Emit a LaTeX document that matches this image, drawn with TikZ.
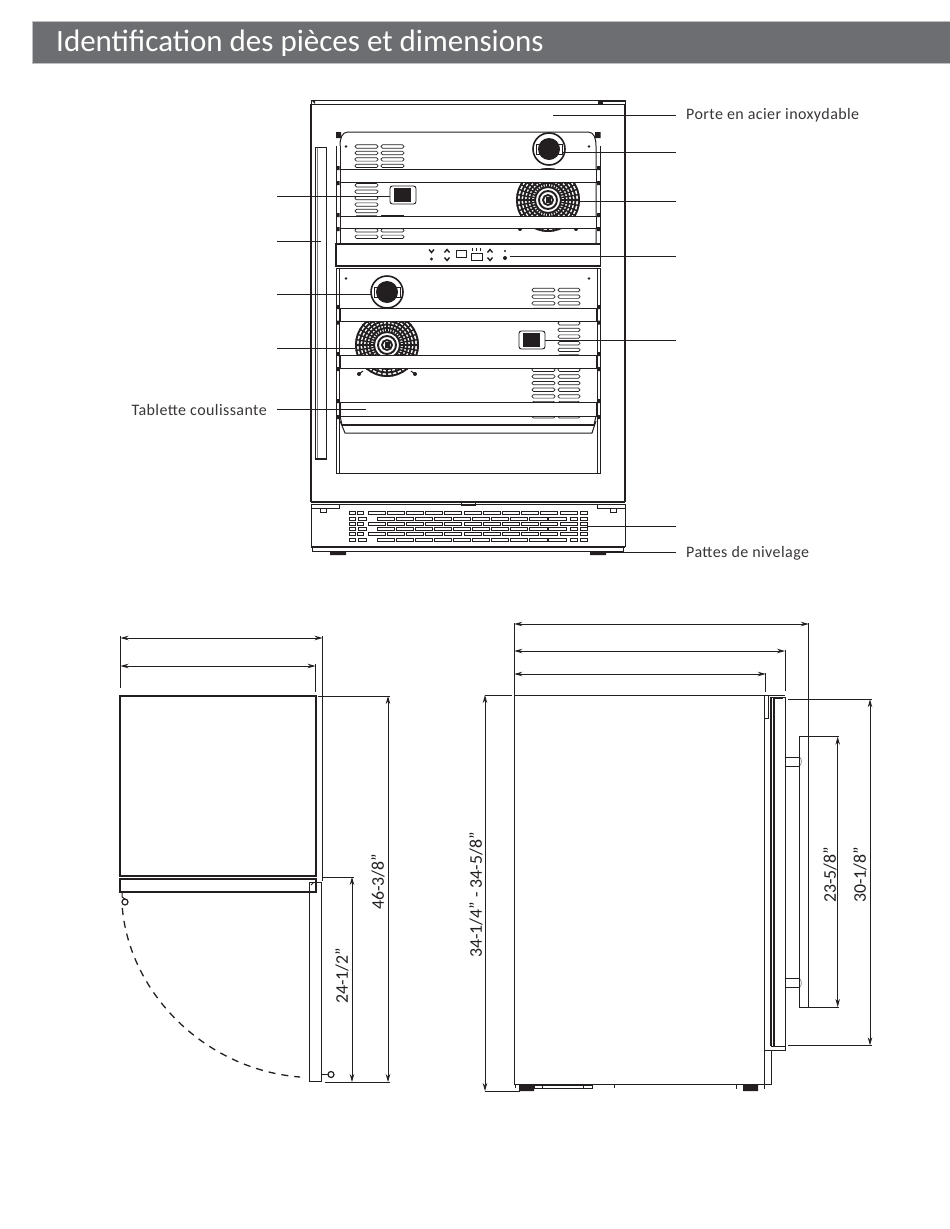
\documentclass[tikz,border=0pt]{standalone}
\usepackage{fontspec}
\setmainfont{Carlito}
\newfontfamily\spaced[LetterSpace=2.6]{Carlito}
\usetikzlibrary{arrows.meta}
\definecolor{bargray}{RGB}{109, 110, 113}
\definecolor{inkblack}{RGB}{35, 31, 32}
\tikzset{
  part/.style={draw=inkblack, line width=1pt},
  heavy/.style={draw=inkblack, line width=2pt},
  fine/.style={draw=inkblack, line width=0.8pt},
  leader/.style={draw=inkblack, line width=0.8pt},
  slot/.style={draw=inkblack, line width=0.7pt, fill=white, rounded corners=1.5pt},
  gridslot/.style={draw=inkblack, line width=0.8pt, fill=white},
  dimline/.style={draw=inkblack, line width=0.8pt, {Stealth[length=8pt,width=4.5pt]}-{Stealth[length=8pt,width=4.5pt]}},
  extline/.style={draw=inkblack, line width=0.8pt},
  partlabel/.style={font=\spaced\fontsize{16}{19}\selectfont, text=inkblack!90, inner xsep=10pt, inner ysep=0pt},
  dimlabel/.style={font=\fontsize{17.8}{21}\selectfont, text=inkblack, rotate=90, inner sep=0pt},
}
\newcommand{\fanguard}[2]{%
  \fill[white] (#1,#2) circle[radius=32];
  \foreach \rad in {5,9,13,17,20.5,24,27.5,31}
    \draw[inkblack, line width=1.9pt] (#1,#2) circle[radius=\rad];
  \foreach \ang in {0,10,...,350}
    \draw[inkblack, line width=1.4pt] (#1,#2) ++(\ang:13) -- ++(\ang:19);
  \fill[inkblack] (#1-2.5,#2-3) rectangle (#1+2.5,#2+3);
  \draw[inkblack, line width=1pt] (#1-28,#2+29) -- (#1-24,#2+26) (#1+28,#2+29) -- (#1+24,#2+26);
  \fill[inkblack] (#1-28,#2+29) circle[radius=2] (#1+28,#2+29) circle[radius=2];
}
\newcommand{\lampdisc}[2]{%
  \draw[inkblack, line width=1.6pt, fill=white] (#1,#2) circle[radius=16];
  \draw[inkblack, line width=0.7pt] (#1-13,#2-5) rectangle (#1+13,#2+5);
  \fill[inkblack] (#1,#2) circle[radius=11];
}
\newcommand{\sensorbox}[2]{%
  \draw[inkblack, line width=0.9pt, fill=white, rounded corners=2.5pt] (#1-13,#2-9) rectangle (#1+13,#2+9);
  \fill[inkblack] (#1-9,#2-7) rectangle (#1+8,#2+7);
}
\begin{document}
\begin{tikzpicture}[x=1pt, y=-1pt]
  \useasboundingbox (0,0) rectangle (950,1229);

  % Title bar
  \fill[bargray] (32,21) rectangle (950,63);
  \draw[gray!50, line width=0.6pt] (950,21) -- (32,21) -- (32,63) -- (950,63);
  \node[anchor=west, text=white, font=\fontsize{31}{37}\selectfont, inner sep=0pt] (title) at (56,43) {Identification des pièces et dimensions};

  % Front view: door and handle
  \draw[part] (311,100) rectangle (625,104);
  \draw[heavy] (311,104) -- (311,502) (625,104) -- (625,502);
  \fill[inkblack] (311,100) -- (315,100) -- (315,104) -- cycle;
  \draw[fine] (598,101) rectangle (625,104);
  \fill[inkblack] (598,100) rectangle (603,104);
  \draw[fine] (315,147) rectangle (326,459);
  \draw[gray, line width=1pt] (317,148) -- (317,458);
  \draw[heavy] (315,459) -- (326,459);

  % Front view: upper compartment
  \draw[part] (336,146) -- (336,244) (600.5,146) -- (600.5,244);
  \draw[part] (340,146) .. controls (340,138) and (342,132) .. (348,132) -- (588,132) .. controls (594,132) and (596,138) .. (596,146) -- (596,244);
  \draw[part] (340,146) -- (340,244);
  \fill[inkblack] (336,132) rectangle (341,138) (595,132) rectangle (600.5,138);
  \foreach \k in {0,...,14}
    \draw[slot] (355,144.8+6.45*\k) rectangle +(23,3.4);
  \foreach \k in {0,1,2,3,11,12,13,14}
    \draw[slot] (381,144.8+6.45*\k) rectangle +(23,3.4);
  \fill[inkblack] (381,215) rectangle (404,217);
  \fill[inkblack] (346,146.5) circle[radius=1.3] (589,146.5) circle[radius=1.3];
  \fanguard{548}{200}
  \lampdisc{549}{149}
  \sensorbox{403}{195}

  % Front view: lower compartment
  \draw[part] (336,268) -- (336,473) -- (600.5,473) -- (600.5,268);
  \draw[part] (339.5,268) -- (339.5,473) (597,268) -- (597,473);
  \foreach \k in {0,1,2,3,12,13,14,15,16,17,18,19}
    \draw[slot] (532,288.3+6.65*\k) rectangle +(23,3.4);
  \foreach \k in {0,...,19}
    \draw[slot] (558,288.3+6.65*\k) rectangle +(22,3.4);
  \fill[inkblack] (346,278.5) circle[radius=1.3] (589,278.5) circle[radius=1.3];
  \fanguard{387}{345}
  \lampdisc{387}{292}
  \sensorbox{532}{340}

  % Control panel
  \draw[fill=white, draw=inkblack, line width=1.4pt] (336,244) rectangle (600.5,266);
  \draw[part] (336,268) -- (600.5,268);
  \foreach \xc/\yc in {431.5/251, 447/259, 490/259}
    \draw[inkblack, line width=1.4pt] (\xc-2.5,\yc-1.5) -- (\xc,\yc+1.5) -- (\xc+2.5,\yc-1.5);
  \foreach \xc/\yc in {447/251, 490/251}
    \draw[inkblack, line width=1.4pt] (\xc-2.5,\yc+1.5) -- (\xc,\yc-1.5) -- (\xc+2.5,\yc+1.5);
  \fill[inkblack] (431.5,259) circle[radius=1.7] (505,251) circle[radius=1.2] (505,258) circle[radius=2];
  \draw[fine] (456,250.5) rectangle (466,257);
  \draw[fine] (471,253.5) rectangle (482,260.5);
  \foreach \xc in {472.5,476.5,480.5}
    \fill[inkblack] (\xc-0.8,247.5) rectangle (\xc+0.8,251);

  % Shelf fronts
  \foreach \ya/\yb in {169/182, 216/228, 308/321.5, 355/368, 402/416} {
    \fill[inkblack] (336.5,\ya-3) rectangle (339.5,\ya+1) (336.5,\yb-1) rectangle (339.5,\yb+3);
    \fill[inkblack] (597,\ya-3) rectangle (600,\ya+1) (597,\yb-1) rectangle (600,\yb+3);
    \draw[part, fill=white] (340,\ya) rectangle (596,\yb);
  }

  % Lower tray
  \draw[part] (340,421) -- (345,433) -- (592,433) -- (596,421);
  \draw[heavy] (342,425) -- (594,425);
  \draw[part] (340,416) -- (342,425) (596,416) -- (594,425);

  % Base and grille
  \draw[heavy] (311,502) -- (625,502);
  \draw[part] (311,504.5) -- (625,504.5);
  \draw[fine] (461,502) rectangle (475,505);
  \draw[fine] (311,504.5) rectangle (339,508);
  \draw[fine] (320,508) -- (320,512) -- (326,512) -- (326,508);
  \draw[fine] (597,504.5) rectangle (625,508);
  \draw[fine] (610,508) -- (610,512) -- (616,512) -- (616,508);
  \draw[part] (311,504) -- (311,547) (625,504) -- (625,547);
  \draw[heavy] (311,547) -- (625,547);
  \draw[part] (312,547) -- (312,551.5) -- (623,551.5) -- (623,547);
  \fill[inkblack] (330,552) rectangle (346,555) (590,552) rectangle (606,555);
  \foreach \yy in {511.5, 522, 532.5} {
    \foreach \k in {0,...,10}
      \draw[gridslot] (368+19.2*\k,\yy) rectangle +(17,3);
    \draw[gridslot] (349,\yy) rectangle +(6,3);
    \draw[gridslot] (357,\yy) rectangle +(6,3);
    \draw[gridslot] (580,\yy) rectangle +(7,3);
  }
  \foreach \yy in {517, 527.5, 538} {
    \foreach \k in {0,...,9}
      \draw[gridslot] (377+19.05*\k,\yy) rectangle +(17.5,3);
    \draw[gridslot] (349,\yy) rectangle +(6,3);
    \draw[gridslot] (358,\yy) rectangle +(8,3);
    \draw[gridslot] (570,\yy) rectangle +(7,3);
    \draw[gridslot] (580,\yy) rectangle +(7,3);
  }

  % Part labels and leaders
  \node[partlabel, anchor=west] (doorlabel) at (676,115) {Porte en acier inoxydable};
  \node[partlabel, anchor=west] (feetlabel) at (676,553) {Pattes de nivelage};
  \node[partlabel, anchor=east] (shelflabel) at (277,410) {Tablette coulissante};
  \coordinate (doorpt) at (553,115.5);
  \coordinate (feetpt) at (605,552.5);
  \coordinate (shelfpt) at (366,409.5);
  \draw[leader] (doorlabel.west |- doorpt) -- (doorpt);
  \draw[leader] (feetlabel.west |- feetpt) -- (feetpt);
  \draw[leader] (shelflabel.east |- shelfpt) -- (shelfpt);
  \foreach \nm/\xa/\xb/\yy in {lampa/563/676/152, fana/580/676/201, panel/510/676/256, sensora/545/676/340, grille/587/676/526,
      sensorb/277/390/196.5, handle/277/321/241, lampb/277/372/294, fanb/277/355/348} {
    \coordinate (\nm from) at (\xa,\yy);
    \coordinate (\nm to) at (\xb,\yy);
    \draw[leader] (\nm from) -- (\nm to);
  }

  % Plan view: cabinet and door
  \draw[heavy] (120,696) rectangle (316,876);
  \draw[heavy] (120,879) rectangle (316,892);
  \draw[part] (309,882) rectangle (321.5,1081);
  \draw[fine] (311,885) -- (314,882);
  \draw[part] (122,892) -- (122,897) -- (125,899);
  \draw[line width=1.2pt, draw=inkblack, fill=white] (125,902) circle[radius=3];
  \draw[part] (321.5,1074.5) -- (328,1074.5);
  \draw[line width=1.2pt, draw=inkblack, fill=white] (331,1074.5) circle[radius=3];
  \draw[line width=1.3pt, draw=inkblack, dash pattern=on 7pt off 6pt] (122.3,908) .. controls (130,994) and (205.6,1069.6) .. (300,1077);

  % Plan view: dimensions
  \draw[extline] (120.5,636) -- (120.5,688);
  \draw[extline] (322.5,636) -- (322.5,881);
  \draw[extline] (315.5,664) -- (315.5,692);
  \draw[extline] (318,696) -- (390,696);
  \draw[extline] (322,877) -- (354,877);
  \draw[extline] (325,1082) -- (390,1082);
  \foreach \nm/\xa/\xb/\yy in {planwidth/120.5/322.5/638, plandepth/120.5/315.5/666} {
    \coordinate (\nm a) at (\xa,\yy);
    \coordinate (\nm b) at (\xb,\yy);
    \draw[dimline] (\nm a) -- (\nm b);
  }
  \foreach \nm/\xx/\ya/\yb in {planfull/388/696/1082, planopen/352/877/1082} {
    \coordinate (\nm a) at (\xx,\ya);
    \coordinate (\nm b) at (\xx,\yb);
    \draw[dimline] (\nm a) -- (\nm b);
  }
  \node[dimlabel] (fulllabel) at (378,882) {46-3/8”};
  \node[dimlabel] (openlabel) at (342,976) {24-1/2”};

  % Side view: cabinet
  \draw[part] (514.3,695) rectangle (764.7,1084.3);
  \draw[part] (764.7,695) -- (785,695);
  \draw[part] (764.7,1084.3) -- (771.7,1084.3) -- (771.7,1050) -- (764.7,1050);
  \fill[inkblack] (519,1085) rectangle (534,1091) (743,1085) rectangle (758,1091);
  \draw[fine] (534,1085) rectangle (592,1088);
  \draw[fine] (542,1085) -- (542,1088) (583,1085) -- (583,1088);
  \draw[fine] (515.5,1084) -- (515.5,1088) (614,1084) -- (614,1088) (736,1084) -- (736,1089) (764.7,1084) -- (764.7,1089);

  % Side view: door and handle
  \draw[part] (770,697) -- (770,1046) (771.7,698) -- (771.7,1046);
  \draw[heavy] (774,698) -- (774,1046);
  \draw[part] (785,697) -- (785,1050);
  \draw[part] (770,697) -- (785,697);
  \draw[part] (771,1046) -- (785,1046) (765,1050) -- (785,1050) -- (785,1046);
  \draw[heavy] (775,698) -- (783,698);
  \draw[fine] (764.7,695) rectangle (768,718);
  \foreach \ya in {757,978.5} {
    \draw[part] (785,\ya) -- (799.5,\ya);
    \draw[part] (785,\ya+9) -- (799.5,\ya+9);
    \draw[gray, line width=0.7pt] (799.5,\ya) .. controls (802,\ya+2) and (802,\ya+7) .. (799.5,\ya+9);
  }
  \draw[part] (799.3,736.7) rectangle (808.7,1007);

  % Side view: dimensions
  \draw[extline] (514.3,623) -- (514.3,695);
  \draw[extline] (808.7,623) -- (808.7,737);
  \draw[extline] (785,650) -- (785,691);
  \draw[extline] (765.7,673) -- (765.7,692);
  \draw[extline] (484.5,695) -- (512,695);
  \draw[extline] (484.5,1091) -- (520,1091);
  \draw[extline] (788,699.3) -- (871.5,699.3);
  \draw[extline] (788,1045.3) -- (871.5,1045.3);
  \draw[extline] (808.7,736.7) -- (839,736.7);
  \draw[extline] (808.7,1007) -- (839,1007);
  \foreach \nm/\xa/\xb/\yy in {sideall/514.3/808.7/624, sidedoor/514.3/785/651, sidebody/514.3/765.7/674} {
    \coordinate (\nm a) at (\xa,\yy);
    \coordinate (\nm b) at (\xb,\yy);
    \draw[dimline] (\nm a) -- (\nm b);
  }
  \foreach \nm/\xx/\ya/\yb in {sideheight/485/695/1091, sidebar/837.7/736.7/1007, sidefront/870/699.3/1045.3} {
    \coordinate (\nm a) at (\xx,\ya);
    \coordinate (\nm b) at (\xx,\yb);
    \draw[dimline] (\nm a) -- (\nm b);
  }
  \node[dimlabel] (heightlabel) at (476,895) {34-1/4” - 34-5/8”};
  \node[dimlabel] (barlabel) at (830,875) {23-5/8”};
  \node[dimlabel] (frontlabel) at (860,875) {30-1/8”};
\end{tikzpicture}
\end{document}
